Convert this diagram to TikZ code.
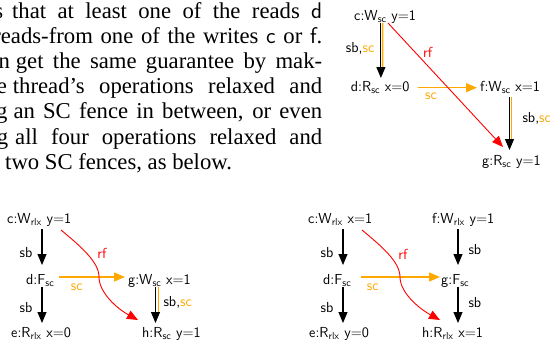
\documentclass[tikz,border=0pt]{standalone}
\usepackage{amsmath}
\usepackage{fontspec}
\setmainfont{Liberation Serif}
\usetikzlibrary{arrows.meta}
\definecolor{scorange}{RGB}{255,168,0}
\newcommand\subx[1]{\ensuremath{_{\textsf{#1}}}}
\begin{document}
\begin{tikzpicture}[x=1pt,y=-1pt,
  para/.style={anchor=base west, inner sep=0pt, font=\fontsize{22.7}{25}\selectfont},
  evt/.style={anchor=base west, inner sep=0pt, font=\sffamily\fontsize{14.5}{16}\selectfont},
  elbl/.style={inner sep=0pt, font=\sffamily\fontsize{14.5}{16}\selectfont},
  sbarrow/.style={draw=black, line width=1.1pt, -{Triangle[length=11pt,width=9pt]}},
  scline/.style={draw=scorange, line width=1.3pt},
  scarrow/.style={draw=scorange, line width=1.3pt, -{Triangle[length=11pt,width=9pt]}},
  rfarrow/.style={draw=red, line width=0.9pt, -{Triangle[length=11pt,width=9pt]}}]
\useasboundingbox (0,0) rectangle (550,343);
\fill[white] (0,0) rectangle (550,343);
\begin{scope}
\clip (0,0) rectangle (550,343);
\node[para] (t1) at (12,18.5) {\llap{is\hspace{9pt}}\hbox to 310pt{that at least one of the reads \textsf{d}}};
\node[para] (t2) at (0.7,43.6) {\llap{r}\hbox to 321.3pt{eads-from one of the writes \textsf{c} or \textsf{f}.}};
\node[para] (t3) at (15.7,68.7) {\llap{can\hspace{6pt}}\hbox to 306.3pt{get the same guarantee by mak-}};
\node[para] (t4) at (12.7,93.8) {\llap{one\hspace{6pt}}\hbox to 309.3pt{thread's operations relaxed and}};
\node[para] (t5) at (13.3,118.9) {\llap{adding\hspace{6pt}}\hbox to 308.7pt{an SC fence in between, or even}};
\node[para] (t6) at (15,144) {\llap{making\hspace{7pt}}\hbox to 307pt{all four operations relaxed and}};
\node[para] (t7) at (5,169.1) {\llap{using\hspace{5.7pt}}two SC fences, as below.};
\end{scope}

% ---------- diagram 1 (top right)
\node[evt] (c1) at (354,20.5) {c:W\subx{sc} y=1};
\node[evt] (d1) at (350.7,91.5) {d:R\subx{sc} x=0};
\node[evt] (f1) at (480,91.5) {f:W\subx{sc} x=1};
\node[evt] (g1) at (482,165.5) {g:R\subx{sc} y=1};
\draw[scline] ([shift={(28.6,2.5)}]c1.base west) -- ([shift={(31.9,-21)}]d1.base west);
\draw[sbarrow] ([shift={(26.9,2.5)}]c1.base west) -- node[elbl, pos=0.47, anchor=east, xshift=-6pt] (l1) {sb,{\color{scorange}sc}} ([shift={(30.2,-13.5)}]d1.base west);
\draw[scline] ([shift={(31.2,5.5)}]f1.base west) -- ([shift={(29.2,-24.5)}]g1.base west);
\draw[sbarrow] ([shift={(29.5,5.5)}]f1.base west) -- node[elbl, pos=0.4, anchor=west, xshift=12.5pt] (l2) {sb,{\color{scorange}sc}} ([shift={(27.5,-15.5)}]g1.base west);
\draw[scarrow] ([shift={(67.3,-3.8)}]d1.base west) -- node[elbl, pos=0.22, anchor=north, yshift=-4.9pt, text=scorange] (l3) {sc} ([shift={(-3,-3.8)}]f1.base west);
\draw[rfarrow] ([shift={(34,2.5)}]c1.base west) -- node[elbl, pos=0.24, xshift=12pt, text=red] (l4) {rf} ([shift={(21,-18.5)}]g1.base west);

% ---------- diagram 2 (bottom left)
\node[evt] (c2) at (7,223.5) {c:W\subx{rlx} y=1};
\node[evt] (d2) at (26,284) {d:F\subx{sc}};
\node[evt] (e2) at (11,337) {e:R\subx{rlx} x=0};
\node[evt] (g2) at (128,284) {g:W\subx{sc} x=1};
\node[evt] (h2) at (142,337) {h:R\subx{sc} y=1};
\draw[sbarrow] ([shift={(35,5.5)}]c2.base west) -- node[elbl, pos=0.64, anchor=east, xshift=-9pt] (l5) {sb} ([shift={(16,-19)}]d2.base west);
\draw[sbarrow] ([shift={(16,3)}]d2.base west) -- node[elbl, pos=0.58, anchor=east, xshift=-9pt] (l6) {sb} ([shift={(31,-14)}]e2.base west);
\draw[scarrow] ([shift={(33,-7)}]d2.base west) -- node[elbl, pos=0.27, anchor=north, yshift=-5.9pt, text=scorange] (l7) {sc} ([shift={(-3,-7)}]g2.base west);
\draw[scline] ([shift={(30.3,3)}]g2.base west) -- ([shift={(16.3,-25)}]h2.base west);
\draw[sbarrow] ([shift={(27.5,3)}]g2.base west) -- node[elbl, pos=0.44, anchor=west, xshift=7.5pt] (l8) {sb,{\color{scorange}sc}} ([shift={(13.5,-14)}]h2.base west);
\draw[rfarrow] ([shift={(54,6.5)}]c2.base west) .. controls (81,246.6) and (99,262) .. node[elbl, pos=0.5, xshift=14.5pt, yshift=1pt, text=red] (l9) {rf} (99,277) .. controls (99,292) and (116,308) .. ([shift={(-4,-17)}]h2.base west);

% ---------- diagram 3 (bottom right)
\node[evt] (c3) at (308,223.5) {c:W\subx{rlx} x=1};
\node[evt] (f3) at (432,223.5) {f:W\subx{rlx} y=1};
\node[evt] (d3) at (323,284) {d:F\subx{sc}};
\node[evt] (g3) at (441,284) {g:F\subx{sc}};
\node[evt] (e3) at (309,337) {e:R\subx{rlx} y=0};
\node[evt] (h3) at (422,337) {h:R\subx{rlx} x=1};
\draw[sbarrow] ([shift={(35,5.5)}]c3.base west) -- node[elbl, pos=0.64, anchor=east, xshift=-9pt] (l10) {sb} ([shift={(20,-19)}]d3.base west);
\draw[sbarrow] ([shift={(20,3)}]d3.base west) -- node[elbl, pos=0.58, anchor=east, xshift=-9pt] (l11) {sb} ([shift={(34,-14)}]e3.base west);
\draw[sbarrow] ([shift={(26,5.5)}]f3.base west) -- node[elbl, pos=0.56, anchor=west, xshift=10pt] (l12) {sb} ([shift={(17,-19)}]g3.base west);
\draw[sbarrow] ([shift={(17,3)}]g3.base west) -- node[elbl, pos=0.44, anchor=west, xshift=10pt] (l13) {sb} ([shift={(36,-14)}]h3.base west);
\draw[scarrow] ([shift={(38,-7)}]d3.base west) -- node[elbl, pos=0.15, anchor=north, yshift=-5.9pt, text=scorange] (l14) {sc} ([shift={(-1,-7)}]g3.base west);
\draw[rfarrow] ([shift={(54,6.5)}]c3.base west) .. controls (382,246.6) and (400,262) .. node[elbl, pos=0.5, xshift=14.5pt, yshift=0pt, text=red] (l15) {rf} (400,277) .. controls (400,292) and (418,308) .. ([shift={(18,-17)}]h3.base west);
\end{tikzpicture}
\end{document}
